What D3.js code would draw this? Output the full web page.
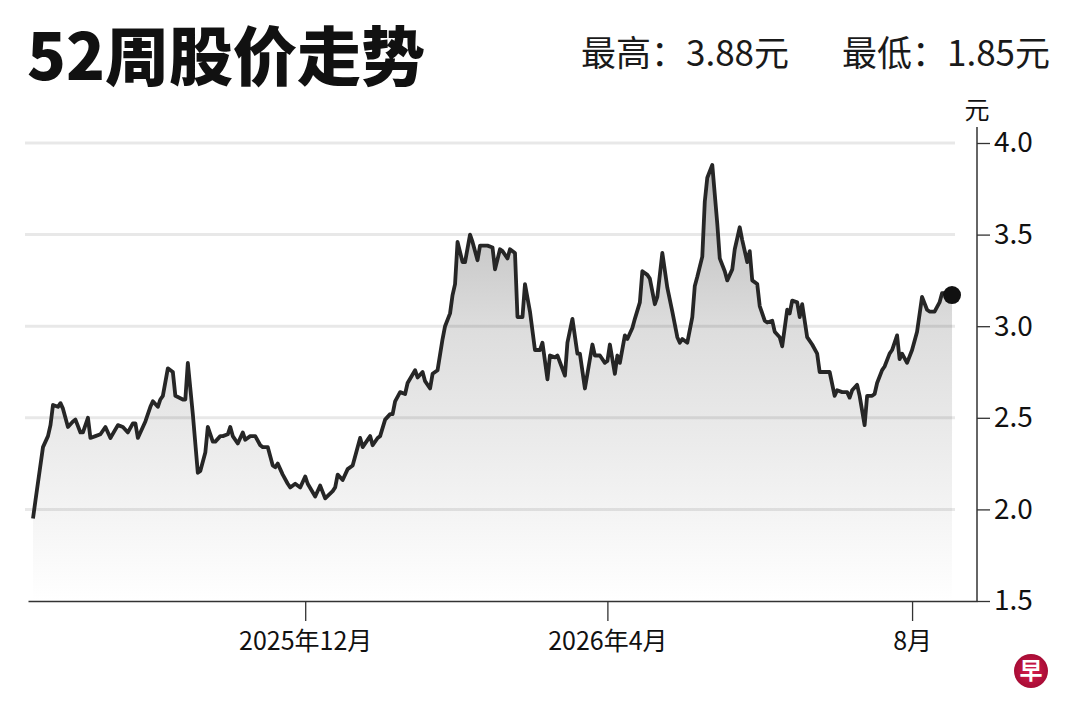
<!DOCTYPE html>
<html>
<head>
<meta charset="utf-8">
<script src="https://cdn.jsdelivr.net/npm/d3@7"></script>
<style>
  html, body { margin: 0; padding: 0; background: #fff; }
  svg { display: block; font-family: "Noto Sans CJK SC", "Noto Sans", sans-serif; }
</style>
</head>
<body>
<div id="chart"></div>
<script>
// ---- data ----
const dates = [
  "2025-08-14","2025-08-15","2025-08-18","2025-08-20","2025-08-21","2025-08-22","2025-08-24","2025-08-25","2025-08-26","2025-08-28","2025-08-30","2025-08-31",
  "2025-09-02","2025-09-03","2025-09-05","2025-09-06","2025-09-08","2025-09-10","2025-09-12","2025-09-14","2025-09-17","2025-09-19","2025-09-21","2025-09-23","2025-09-24","2025-09-25","2025-09-28","2025-09-30",
  "2025-10-01","2025-10-03","2025-10-04","2025-10-05","2025-10-07","2025-10-09","2025-10-10","2025-10-13","2025-10-14","2025-10-15","2025-10-17","2025-10-19","2025-10-20","2025-10-22","2025-10-23","2025-10-25","2025-10-26","2025-10-28","2025-10-29","2025-10-31",
  "2025-11-01","2025-11-02","2025-11-04","2025-11-06","2025-11-07","2025-11-09","2025-11-11","2025-11-13","2025-11-14","2025-11-16","2025-11-18","2025-11-19","2025-11-20","2025-11-22","2025-11-24","2025-11-25","2025-11-27","2025-11-29",
  "2025-12-01","2025-12-02","2025-12-05","2025-12-07","2025-12-09","2025-12-12","2025-12-13","2025-12-14","2025-12-16","2025-12-18","2025-12-20","2025-12-23","2025-12-24","2025-12-27","2025-12-28","2025-12-30","2025-12-31",
  "2026-01-02","2026-01-04","2026-01-05","2026-01-06","2026-01-08","2026-01-10","2026-01-11","2026-01-14","2026-01-15","2026-01-17","2026-01-18","2026-01-20","2026-01-21","2026-01-23","2026-01-25","2026-01-26","2026-01-28","2026-01-29","2026-01-30","2026-01-31",
  "2026-02-02","2026-02-03","2026-02-05","2026-02-06","2026-02-08","2026-02-09","2026-02-12","2026-02-14","2026-02-15","2026-02-17","2026-02-18","2026-02-20","2026-02-21","2026-02-23","2026-02-24","2026-02-26","2026-02-27",
  "2026-03-01","2026-03-03","2026-03-05","2026-03-06","2026-03-08","2026-03-09","2026-03-11","2026-03-12","2026-03-15","2026-03-16","2026-03-18","2026-03-20","2026-03-21","2026-03-23","2026-03-26","2026-03-27","2026-03-29","2026-03-31",
  "2026-04-01","2026-04-02","2026-04-04","2026-04-05","2026-04-06","2026-04-08","2026-04-09","2026-04-11","2026-04-12","2026-04-14","2026-04-15","2026-04-17","2026-04-18","2026-04-20","2026-04-21","2026-04-23","2026-04-25","2026-04-27","2026-04-29","2026-04-30",
  "2026-05-01","2026-05-03","2026-05-05","2026-05-06","2026-05-07","2026-05-09","2026-05-10","2026-05-11","2026-05-13","2026-05-15","2026-05-16","2026-05-18","2026-05-19","2026-05-21","2026-05-22","2026-05-24","2026-05-25","2026-05-27","2026-05-28","2026-05-29","2026-05-31",
  "2026-06-01","2026-06-03","2026-06-04","2026-06-06","2026-06-07","2026-06-09","2026-06-10","2026-06-12","2026-06-13","2026-06-14","2026-06-16","2026-06-17","2026-06-18","2026-06-20","2026-06-22","2026-06-24","2026-06-25","2026-06-29",
  "2026-07-01","2026-07-02","2026-07-04","2026-07-06","2026-07-07","2026-07-08","2026-07-10","2026-07-11","2026-07-13","2026-07-14","2026-07-16","2026-07-17","2026-07-18","2026-07-20","2026-07-21","2026-07-23","2026-07-24","2026-07-26","2026-07-27","2026-07-28","2026-07-30",
  "2026-08-01","2026-08-03","2026-08-05","2026-08-07","2026-08-08","2026-08-10","2026-08-12","2026-08-13","2026-08-15","2026-08-17"
];

const prices = [
  1.95,2.05,2.34,2.40,2.46,2.57,2.56,2.58,2.55,2.45,2.48,2.49,
  2.42,2.42,2.50,2.39,2.40,2.41,2.45,2.39,2.46,2.45,2.42,2.47,2.47,2.39,2.48,2.56,
  2.59,2.56,2.60,2.62,2.77,2.75,2.62,2.60,2.60,2.80,2.52,2.20,2.21,2.31,2.45,2.37,2.37,2.40,2.40,2.41,
  2.45,2.40,2.36,2.42,2.38,2.40,2.40,2.35,2.34,2.34,2.24,2.23,2.25,2.19,2.14,2.12,2.14,2.12,
  2.18,2.14,2.07,2.13,2.06,2.10,2.12,2.19,2.16,2.22,2.24,2.39,2.34,2.40,2.35,2.39,2.40,
  2.49,2.52,2.52,2.59,2.64,2.63,2.69,2.76,2.72,2.75,2.70,2.66,2.74,2.76,2.93,3.00,3.07,3.17,3.23,3.46,
  3.35,3.35,3.50,3.46,3.36,3.44,3.44,3.43,3.31,3.42,3.41,3.37,3.42,3.40,3.05,3.05,3.23,
  3.08,2.87,2.87,2.91,2.71,2.84,2.83,2.84,2.73,2.91,3.04,2.85,2.85,2.66,2.90,2.84,2.84,2.80,
  2.81,2.90,2.74,2.84,2.80,2.95,2.93,2.99,3.04,3.13,3.30,3.28,3.26,3.12,3.16,3.40,3.21,3.08,2.94,2.91,
  2.93,2.91,3.05,3.22,3.27,3.38,3.68,3.81,3.88,3.56,3.37,3.30,3.25,3.31,3.42,3.54,3.47,3.35,3.41,3.25,3.23,
  3.11,3.03,3.02,3.03,2.97,2.94,2.89,3.09,3.07,3.14,3.13,3.05,3.12,2.94,2.90,2.85,2.75,2.75,
  2.62,2.65,2.64,2.64,2.61,2.65,2.68,2.62,2.46,2.62,2.62,2.63,2.69,2.76,2.78,2.85,2.87,2.95,2.82,2.85,2.80,
  2.87,2.97,3.16,3.09,3.08,3.08,3.13,3.18,3.18,3.17
];

const yTicks = [1.5, 2.0, 2.5, 3.0, 3.5, 4.0];
const gridValues = [2.0, 2.5, 3.0, 3.5, 4.0];
const xTickDates = ["2025-12-01", "2026-04-01", "2026-08-01"];
const xTickLabels = ["2025年12月", "2026年4月", "8月"];
const statLabels = ["最高", "最低"];
const statValues = [3.88, 1.85];
const titleText = "52周股价走势";
const unitText = "元";

// ---- draw ----
const W = 1080, H = 720;
const parse = d3.utcParse("%Y-%m-%d");
const data = dates.map((d, i) => ({ date: parse(d), price: prices[i] }));

const svg = d3.select("#chart").append("svg")
  .attr("width", W)
  .attr("height", H);

const x = d3.scaleUtc()
  .domain([parse("2025-08-12"), parse("2026-08-27")])
  .range([28, 977]);
const y = d3.scaleLinear()
  .domain([1.5, 4.0])
  .range([601, 143]);

// grey fade under the line
const defs = svg.append("defs");
const grad = defs.append("linearGradient")
  .attr("id", "fade")
  .attr("gradientUnits", "userSpaceOnUse")
  .attr("x1", 0).attr("x2", 0)
  .attr("y1", y(3.9)).attr("y2", y(1.5));
grad.append("stop").attr("offset", 0).attr("stop-color", "#b6b6b6");
grad.append("stop").attr("offset", 0.38).attr("stop-color", "#dddddd");
grad.append("stop").attr("offset", 1).attr("stop-color", "#ffffff");

const logoGrad = defs.append("radialGradient").attr("id", "logo");
logoGrad.append("stop").attr("offset", 0).attr("stop-color", "#d81d4e");
logoGrad.append("stop").attr("offset", 1).attr("stop-color", "#a70c35");

svg.append("path")
  .datum(data)
  .attr("fill", "url(#fade)")
  .attr("d", d3.area()
    .x(d => x(d.date))
    .y0(y(1.5))
    .y1(d => y(d.price)));

// gridlines
svg.append("g")
  .selectAll("line")
  .data(gridValues)
  .join("line")
  .attr("x1", 25)
  .attr("x2", 955)
  .attr("y1", d => y(d))
  .attr("y2", d => y(d))
  .attr("stroke", "rgba(0,0,0,0.09)")
  .attr("stroke-width", 3);

// price line
svg.append("path")
  .datum(data)
  .attr("fill", "none")
  .attr("stroke", "#262626")
  .attr("stroke-width", 3.8)
  .attr("stroke-linejoin", "round")
  .attr("d", d3.line()
    .x(d => x(d.date))
    .y(d => y(d.price)));

const last = data[data.length - 1];
svg.append("circle")
  .attr("cx", x(last.date))
  .attr("cy", y(last.price))
  .attr("r", 9)
  .attr("fill", "#111");

// x axis
const xAxis = svg.append("g")
  .attr("transform", `translate(0,${y(1.5)})`)
  .call(d3.axisBottom(x)
    .tickValues(xTickDates.map(parse))
    .tickFormat((d, i) => xTickLabels[i])
    .tickSize(20)
    .tickSizeOuter(0));
xAxis.select(".domain").attr("stroke", "#333").attr("stroke-width", 1.5);
xAxis.selectAll(".tick line").attr("stroke", "#333").attr("stroke-width", 1.3);
xAxis.selectAll(".tick text")
  .attr("y", 49)
  .attr("dy", 0)
  .attr("fill", "#111")
  .style("font-size", "25px")
  .style("font-family", "'Noto Sans CJK SC', sans-serif");

// y axis on the right
const yAxis = svg.append("g")
  .attr("transform", "translate(977,0)")
  .call(d3.axisRight(y)
    .tickValues(yTicks)
    .tickFormat(d3.format(".1f"))
    .tickSize(13)
    .tickPadding(4));
yAxis.select(".domain").remove();
yAxis.selectAll(".tick line").attr("stroke", "#333").attr("stroke-width", 1.3);
yAxis.selectAll(".tick text")
  .attr("fill", "#111")
  .style("font-size", "28px")
  .style("font-family", "'Noto Sans CJK SC', sans-serif");
yAxis.append("line")
  .attr("x1", 0).attr("x2", 0)
  .attr("y1", 127).attr("y2", y(1.5))
  .attr("stroke", "#333")
  .attr("stroke-width", 1.5);

svg.append("text")
  .attr("x", 977)
  .attr("y", 119)
  .attr("text-anchor", "middle")
  .attr("fill", "#111")
  .style("font-size", "25px")
  .text(unitText);

// title and high/low
svg.append("text")
  .attr("x", 27)
  .attr("y", 80)
  .attr("fill", "#111")
  .style("font-size", "64px")
  .style("font-weight", 900)
  .text(titleText);

svg.append("text")
  .attr("x", 581)
  .attr("y", 66)
  .attr("fill", "#1a1a1a")
  .style("font-size", "35px")
  .text(`${statLabels[0]}：${statValues[0].toFixed(2)}元`);

svg.append("text")
  .attr("x", 1050)
  .attr("y", 66)
  .attr("text-anchor", "end")
  .attr("fill", "#1a1a1a")
  .style("font-size", "35px")
  .text(`${statLabels[1]}：${statValues[1].toFixed(2)}元`);

// little logo
svg.append("circle")
  .attr("cx", 1031).attr("cy", 671).attr("r", 17)
  .attr("fill", "url(#logo)");
svg.append("text")
  .attr("x", 1031).attr("y", 671)
  .attr("dy", "0.36em")
  .attr("text-anchor", "middle")
  .attr("fill", "#fff")
  .style("font-size", "23px")
  .style("font-weight", 700)
  .text("早");
</script>
</body>
</html>
